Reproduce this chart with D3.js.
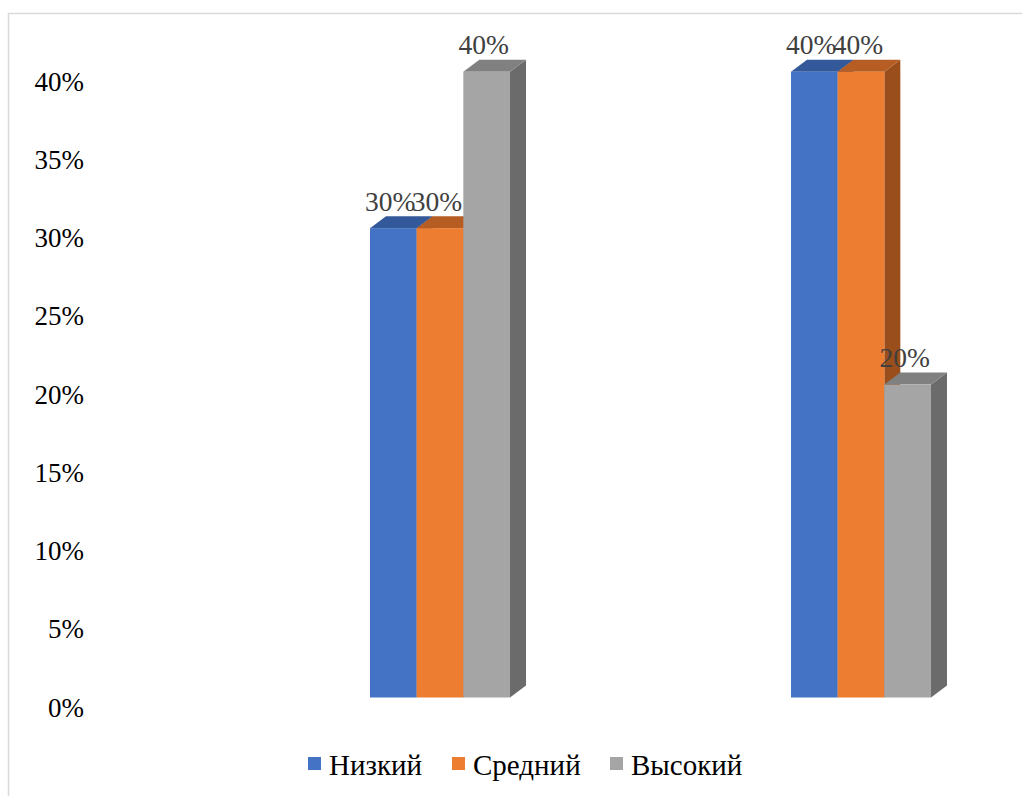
<!DOCTYPE html>
<html>
<head>
<meta charset="utf-8">
<script src="https://cdn.jsdelivr.net/npm/d3@7"></script>
<style>
  html, body { margin: 0; padding: 0; background: #fff; }
  svg { display: block; }
</style>
</head>
<body>
<svg id="chart" width="1022" height="796"></svg>
<script>
// ---- data ----
const categories = ["Группа 1", "Группа 2"];
const seriesNames = ["Низкий", "Средний", "Высокий"];
const seriesColors = ["#4472C4", "#ED7D31", "#A5A5A5"];
const topColors = ["#34599A", "#B55D22", "#808080"];
const sideColors = ["#2C4C84", "#9A4E1B", "#6B6B6B"];
const lowValues = [30, 40];
const midValues = [30, 40];
const highValues = [40, 20];
const yTicks = [0, 5, 10, 15, 20, 25, 30, 35, 40];

const seriesValues = [lowValues, midValues, highValues];

const W = 1022, H = 796;
const svg = d3.select("#chart");
const FONT = "'Liberation Serif', 'Times New Roman', serif";

// frame
svg.append("rect")
  .attr("x", 8.5).attr("y", 13.5)
  .attr("width", W + 20).attr("height", H + 20)
  .attr("fill", "#fff").attr("stroke", "#D9D9D9").attr("stroke-width", 1.5);

const y = d3.scaleLinear().domain([0, 40]).range([697.5, 71.7]);
const x0 = d3.scaleBand().domain(categories).range([229.5, 1071.5]);
const groupW = 140;
const x1 = d3.scaleBand().domain(seriesNames).range([0, groupW]);
const dx = 16, dy = -12;

// y axis labels
svg.append("g").selectAll("text").data(yTicks).join("text")
  .attr("x", 84)
  .attr("y", d => y(d) + 10)
  .attr("text-anchor", "end")
  .attr("dominant-baseline", "central")
  .attr("font-family", FONT)
  .attr("font-size", 27)
  .attr("fill", "#000")
  .text(d => d + "%");

// bars
const bars = [];
categories.forEach((c, ci) => {
  seriesNames.forEach((s, si) => {
    bars.push({c, s, si, v: seriesValues[si][ci]});
  });
});

const gBars = svg.append("g");
bars.forEach(b => {
  const left = x0(b.c) + (x0.bandwidth() - groupW) / 2 + x1(b.s);
  const right = left + x1.bandwidth();
  const yt = y(b.v), yb = y(0);
  const g = gBars.append("g");
  g.append("path")
    .attr("d", `M${right},${yt}L${right + dx},${yt + dy}L${right + dx},${yb + dy}L${right},${yb}Z`)
    .attr("fill", sideColors[b.si]);
  g.append("path")
    .attr("d", `M${left},${yt}L${left + dx},${yt + dy}L${right + dx},${yt + dy}L${right},${yt}Z`)
    .attr("fill", topColors[b.si]);
  g.append("rect")
    .attr("x", left).attr("y", yt)
    .attr("width", right - left).attr("height", yb - yt)
    .attr("fill", seriesColors[b.si]);
  b.cx = (left + right) / 2;
});

// data labels
svg.append("g").selectAll("text").data(bars).join("text")
  .attr("x", d => d.cx - 3)
  .attr("y", d => y(d.v) - 27)
  .attr("text-anchor", "middle")
  .attr("dominant-baseline", "central")
  .attr("font-family", FONT)
  .attr("font-size", 27.5)
  .attr("fill", "#404040")
  .text(d => d.v + "%");

// legend
const legendItems = [
  {name: seriesNames[0], color: seriesColors[0], x: 308},
  {name: seriesNames[1], color: seriesColors[1], x: 452},
  {name: seriesNames[2], color: seriesColors[2], x: 610}
];
const lg = svg.append("g");
legendItems.forEach(it => {
  lg.append("rect").attr("x", it.x).attr("y", 757).attr("width", 13).attr("height", 13).attr("fill", it.color);
  lg.append("text")
    .attr("x", it.x + 21).attr("y", 765)
    .attr("dominant-baseline", "central")
    .attr("font-family", FONT)
    .attr("font-size", 29)
    .attr("fill", "#000")
    .text(it.name);
});
</script>
</body>
</html>
